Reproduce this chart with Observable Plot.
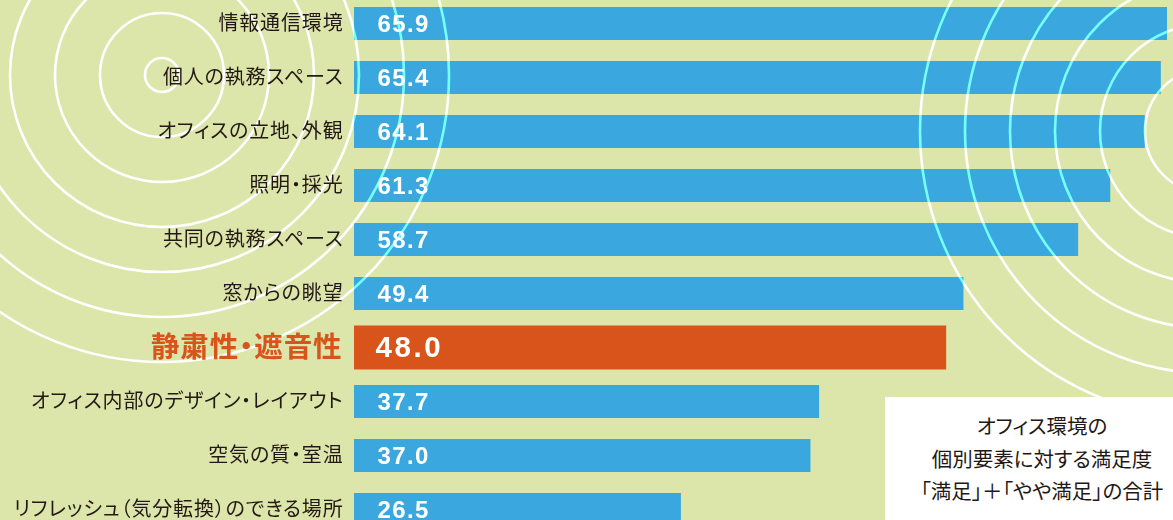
<!DOCTYPE html>
<html>
<head>
<meta charset="utf-8">
<script src="https://cdn.jsdelivr.net/npm/d3@7"></script>
<script src="https://cdn.jsdelivr.net/npm/@observablehq/plot@0.6"></script>
<style>
  html, body { margin: 0; padding: 0; background: #dce6aa; }
  #chart svg { display: block; }
  .jp { font-feature-settings: "palt" 1; }
  .lab { font-feature-settings: "palt" 1; letter-spacing: 0.85px; }
  .hilab { font-feature-settings: "palt" 1; letter-spacing: 0.9px; }
  .val { letter-spacing: 1.4px; }
  .hival { letter-spacing: 2.6px; }
</style>
</head>
<body>
<div id="chart"></div>
<script>
// ---- data ----
const categories = [
  "情報通信環境",
  "個人の執務スペース",
  "オフィスの立地、外観",
  "照明・採光",
  "共同の執務スペース",
  "窓からの眺望",
  "静粛性・遮音性",
  "オフィス内部のデザイン・レイアウト",
  "空気の質・室温",
  "リフレッシュ（気分転換）のできる場所"
];
const values = [65.9, 65.4, 64.1, 61.3, 58.7, 49.4, 48.0, 37.7, 37.0, 26.5];
const highlight = "静粛性・遮音性";
const legendLines = ["オフィス環境の", "個別要素に対する満足度", "「満足」＋「やや満足」の合計"];

const data = categories.map((c, i) => ({category: c, value: values[i], hi: c === highlight}));

const BG = "#dce6aa", BLUE = "#3aa8df", ORANGE = "#d9541a", INK = "#231815";
const JP = "'Noto Sans CJK JP', sans-serif";

// decorative concentric rings (blend overlay: white on background, cyan on bars)
function rings(index, scales, values, dims) {
  const g = d3.create("svg:g").attr("style", "mix-blend-mode: overlay").attr("fill", "none")
    .attr("stroke", "#fff").attr("stroke-width", 2.6);
  const centers = [[162, 75], [1207, 131]];
  for (const [cx, cy] of centers) {
    for (let k = 0; k < 7; k++) {
      g.append("circle").attr("cx", cx).attr("cy", cy).attr("r", 17 + 45 * k);
    }
  }
  return g.node();
}

function legend(index, scales, values, dims) {
  const g = d3.create("svg:g");
  g.append("rect").attr("x", 885).attr("y", 397).attr("width", 300).attr("height", 130).attr("fill", "#fff");
  legendLines.forEach((t, i) => {
    g.append("text").attr("x", 1042).attr("y", 425 + i * 32.5)
      .attr("class", "jp")
      .attr("text-anchor", "middle").attr("dominant-baseline", "central")
      .attr("font-family", JP).attr("font-size", 20.5)
      .attr("fill", INK).text(t);
  });
  return g.node();
}

const chart = Plot.plot({
  width: 1173,
  height: 520,
  marginTop: 0, marginBottom: 0, marginLeft: 0, marginRight: 0,
  style: {background: BG, overflow: "visible"},
  x: {domain: [0, 65.9], range: [354, 1167], axis: null},
  y: {domain: categories, range: [-14, 547], padding: 21 / 54, axis: null},
  marks: [
    Plot.frame({fill: BG, stroke: null}),
    Plot.barX(data.filter(d => !d.hi), {x: "value", y: "category", fill: BLUE}),
    Plot.barX(data.filter(d => d.hi), {x: "value", y: "category", fill: ORANGE, insetTop: -5.5, insetBottom: -5.5}),
    rings,
    Plot.text(data.filter(d => !d.hi), {
      x: 0, y: "category", text: d => d.value.toFixed(1), dx: 23, textAnchor: "start",
      fill: "#fff", fontFamily: "'Liberation Sans', Arial, sans-serif", fontWeight: "bold",
      fontSize: 24, className: "val"
    }),
    Plot.text(data.filter(d => d.hi), {
      x: 0, y: "category", text: d => d.value.toFixed(1), dx: 21, textAnchor: "start",
      fill: "#fff", fontFamily: "'Liberation Sans', Arial, sans-serif", fontWeight: "bold",
      fontSize: 29.5, className: "hival"
    }),
    Plot.text(data.filter(d => !d.hi), {
      x: 0, y: "category", text: "category", dx: -11, textAnchor: "end",
      fill: INK, fontFamily: JP, fontSize: 20, className: "lab"
    }),
    Plot.text(data.filter(d => d.hi), {
      x: 0, y: "category", text: "category", dx: -12, textAnchor: "end",
      fill: ORANGE, fontFamily: JP, fontWeight: "bold", fontSize: 28.5, className: "hilab"
    }),
    legend
  ]
});
document.getElementById("chart").append(chart);
</script>
</body>
</html>
